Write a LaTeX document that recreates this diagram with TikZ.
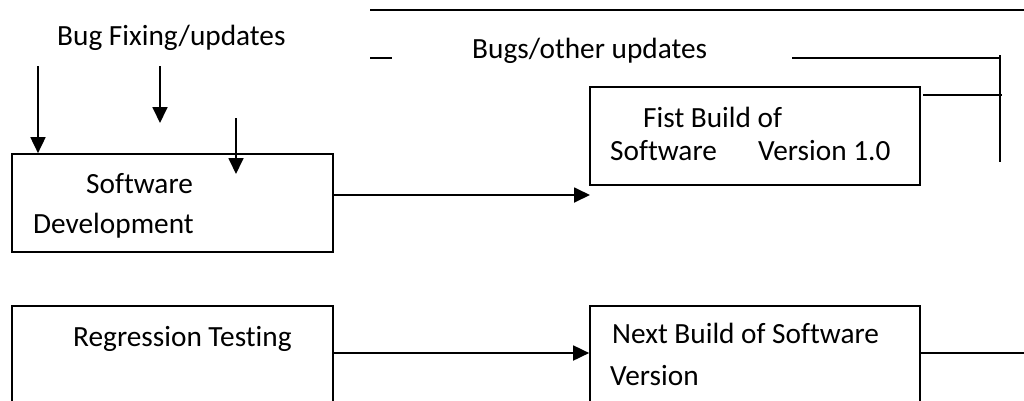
\documentclass[tikz,border=0pt]{standalone}
\usepackage{fontspec}
\setmainfont{Carlito}[RawFeature={-liga}]
\usetikzlibrary{arrows.meta}
\begin{document}
\begin{tikzpicture}[x=1pt,y=-1pt,
  box/.style={draw,line width=1.7pt,rectangle,inner sep=0pt},
  lbl/.style={anchor=base west,inner sep=0pt,font=\fontsize{29.3}{34}\selectfont},
  conn/.style={line width=1.7pt},
  arr/.style={line width=1.8pt,-{Triangle[length=16pt,width=15pt]}}]
\useasboundingbox (0,0) rectangle (1024,400);
\clip (0,0) rectangle (1024,400);
% boxes
\node[box,minimum width=321pt,minimum height=98pt] (sd) at (172.5,203) {};
\node[box,minimum width=330pt,minimum height=98pt] (fb) at (755,136) {};
\node[box,minimum width=321pt,minimum height=110pt] (rt) at (172.5,361) {};
\node[box,minimum width=330pt,minimum height=110pt] (nb) at (755,361) {};
% texts
\node[lbl] (t1) at (57,45) {Bug Fixing/updates};
\node[lbl] (t2) at (472,58) {Bugs/other updates};
\node[lbl] (t3) at (643,127) {Fist Build of};
\node[lbl] (t4) at (610,160) {Software};
\node[lbl] (t5) at (758,160) {Version 1.0};
\node[lbl] (t6) at (86,193) {Software};
\node[lbl] (t7) at (33,233) {Development};
\node[lbl] (t8) at (73,346) {Regression Testing};
\node[lbl] (t9) at (612,343) {Next Build of Software};
\node[lbl] (t10) at (610,385) {Version};
% coordinates
\coordinate (a1s) at (38,66);
\coordinate (a2s) at (160,66);
\coordinate (a2e) at (160,123);
\coordinate (a3s) at (236,118);
\coordinate (a3e) at (236,174);
\coordinate (h1) at (590,195);
\coordinate (h2) at (0,353);
\coordinate (r2) at (1024,353);
\coordinate (top1) at (370,10);
\coordinate (top2) at (1024,10);
\coordinate (d1) at (370,58);
\coordinate (d2) at (392,58);
\coordinate (l1) at (792,58);
\coordinate (l2) at (1000,58);
\coordinate (v1) at (1000,55);
\coordinate (v2) at (1000,162);
\coordinate (l3) at (923,95);
\coordinate (l4) at (1002,95);
% connectors
\draw[arr] (a1s) -- (a1s |- sd.north);
\draw[arr] (a2s) -- (a2e);
\draw[arr] (a3s) -- (a3e);
\draw[arr] (sd.east |- h1) -- (h1);
\draw[arr] (rt.east |- h2) -- (nb.west |- h2);
\draw[conn] (nb.east |- r2) -- (r2);
\draw[conn] (top1) -- (top2);
\draw[conn] (d1) -- (d2);
\draw[conn] (l1) -- (l2);
\draw[conn] (v1) -- (v2);
\draw[conn] (l3) -- (l4);
\end{tikzpicture}
\end{document}
